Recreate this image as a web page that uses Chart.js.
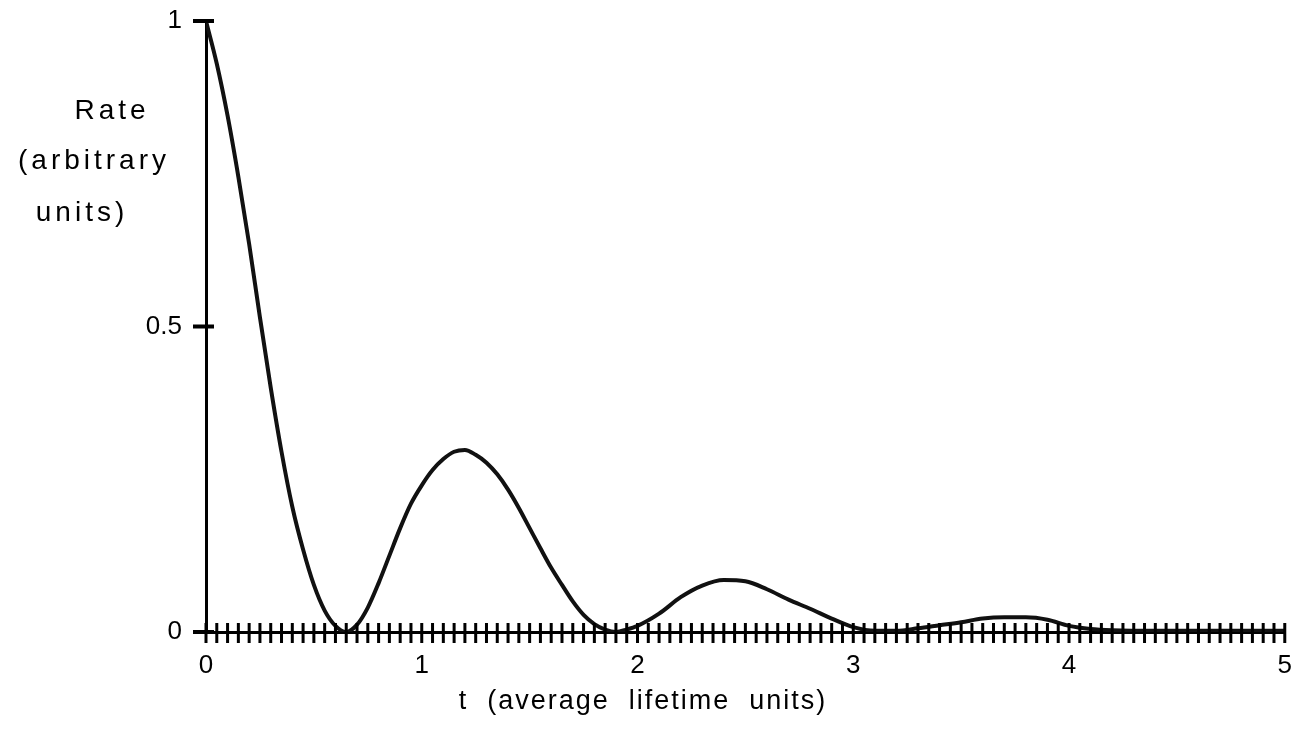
<!DOCTYPE html>
<html>
<head>
<meta charset="utf-8">
<script src="https://cdn.jsdelivr.net/npm/chart.js@4.4.1/dist/chart.umd.min.js"></script>
<style>
  html, body { margin: 0; padding: 0; background: #fff; }
  #wrap { width: 1302px; height: 739px; position: relative; }
</style>
</head>
<body>
<div id="wrap"><canvas id="rateChart" width="1302" height="739"></canvas></div>
<script>
// t in average lifetime units, rate in arbitrary units
const tValues = [
    0, 0.05, 0.1, 0.15, 0.2, 0.25, 0.3, 0.35, 0.4, 0.45,
    0.5, 0.55, 0.6, 0.65, 0.7, 0.75, 0.8, 0.85, 0.9, 0.95,
    1.0, 1.05, 1.1, 1.15, 1.2, 1.25, 1.3, 1.35, 1.4, 1.45,
    1.5, 1.55, 1.6, 1.65, 1.7, 1.75, 1.8, 1.85, 1.9, 1.95,
    2.0, 2.1, 2.2, 2.3, 2.4, 2.5, 2.6, 2.7, 2.8, 2.9,
    3.0, 3.1, 3.2, 3.3, 3.4, 3.5, 3.6, 3.7, 3.8, 3.9,
    4.0, 4.1, 4.2, 4.4, 4.6, 4.8, 5.0
];
const rateValues = [
    1.0, 0.93, 0.845, 0.745, 0.635, 0.515, 0.4, 0.295, 0.205, 0.135,
    0.077, 0.035, 0.01, 0.0, 0.012, 0.04, 0.08, 0.125, 0.17, 0.21,
    0.24, 0.265, 0.283, 0.295, 0.298, 0.29, 0.277, 0.258, 0.233, 0.203,
    0.17, 0.137, 0.105, 0.077, 0.05, 0.028, 0.013, 0.004, 0.0, 0.004,
    0.01, 0.03, 0.057, 0.076, 0.085, 0.083, 0.07, 0.053, 0.038, 0.022,
    0.008, 0.002, 0.002, 0.006, 0.011, 0.016, 0.022, 0.024, 0.024, 0.02,
    0.01, 0.005, 0.003, 0.002, 0.002, 0.002, 0.002
];
const yTickValues = [0, 0.5, 1];
const xTitle = "t  (average  lifetime  units)";
const yTitleLines = ["Rate", "(arbitrary", "units)"];

const FONT = "Helvetica, Arial, 'Liberation Sans', sans-serif";

// ticks that cross the axis lines, plus the unrotated titles
const crossTicks = {
    id: 'crossTicks',
    afterDraw(chart) {
        const ctx = chart.ctx;
        const xs = chart.scales.x, ys = chart.scales.y;
        const y0 = ys.getPixelForValue(0);
        const x0 = xs.getPixelForValue(0);
        ctx.save();
        ctx.strokeStyle = '#000';
        ctx.lineWidth = 3;
        ctx.beginPath();
        xs.ticks.forEach(t => {
            const px = xs.getPixelForValue(t.value);
            ctx.moveTo(px, y0 - 9);
            ctx.lineTo(px, y0 + 11);
        });
        ctx.stroke();
        ctx.lineWidth = 4;
        ctx.beginPath();
        ys.ticks.forEach(t => {
            const py = ys.getPixelForValue(t.value);
            ctx.moveTo(x0 - 13, py);
            ctx.lineTo(x0 + 8, py);
        });
        ctx.stroke();

        ctx.fillStyle = '#000';
        ctx.textAlign = 'center';
        ctx.textBaseline = 'middle';
        ctx.font = '28px ' + FONT;
        ctx.letterSpacing = '4px';
        const top = chart.chartArea.top;
        const offs = [[94, 90], [112, 140], [124, 192]];
        yTitleLines.forEach((s, i) => {
            ctx.fillText(s, x0 - offs[i][0], top + offs[i][1]);
        });
        ctx.font = '27px ' + FONT;
        ctx.letterSpacing = '2px';
        ctx.fillText(xTitle, x0 + 437, chart.chartArea.bottom + 70);
        ctx.restore();
    }
};

const points = tValues.map((t, i) => ({ x: t, y: rateValues[i] }));

new Chart(document.getElementById('rateChart'), {
    type: 'line',
    data: {
        datasets: [{
            data: points,
            borderColor: '#111',
            borderWidth: 4,
            pointRadius: 0,
            fill: false,
            cubicInterpolationMode: 'monotone'
        }]
    },
    options: {
        responsive: false,
        animation: false,
        layout: { padding: { left: 0, right: 12, top: 21, bottom: 0 } },
        plugins: { legend: { display: false }, tooltip: { enabled: false } },
        scales: {
            x: {
                type: 'linear',
                min: 0,
                max: 5,
                afterFit: s => { s.height = 107; },
                grid: { display: false },
                border: { display: true, color: '#000', width: 3 },
                ticks: {
                    stepSize: 0.05,
                    maxTicksLimit: 200,
                    autoSkip: false,
                    maxRotation: 0,
                    padding: 10,
                    color: '#000',
                    font: { size: 26, family: FONT },
                    callback: v => Math.abs(v - Math.round(v)) < 1e-6 ? String(Math.round(v)) : ''
                }
            },
            y: {
                min: 0,
                max: 1,
                afterFit: s => { s.width = 206; s.paddingTop = 0; s.paddingBottom = 0; },
                afterBuildTicks: s => { s.ticks = yTickValues.map(v => ({ value: v })); },
                grid: { display: false },
                border: { display: true, color: '#000', width: 3 },
                ticks: {
                    padding: 16,
                    color: '#000',
                    font: { size: 26, family: FONT },
                    callback: v => String(v)
                }
            }
        }
    },
    plugins: [crossTicks]
});
</script>
</body>
</html>
